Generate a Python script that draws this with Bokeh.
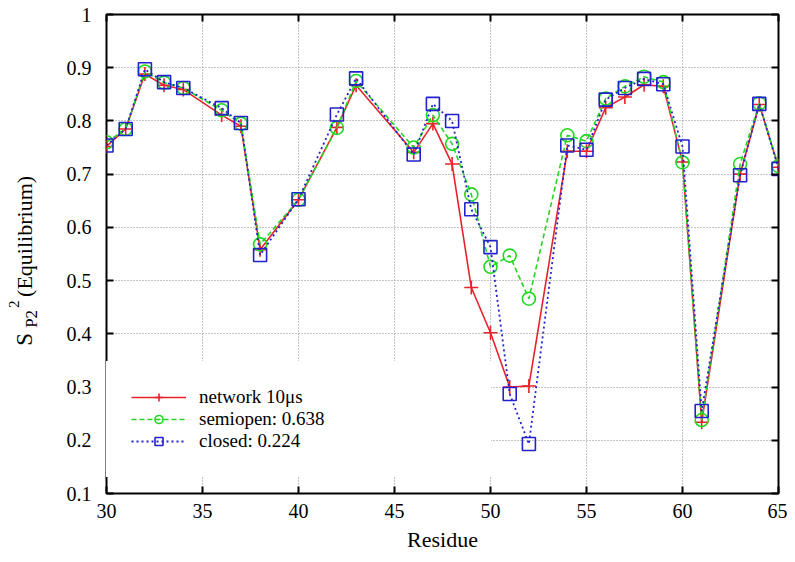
import math
from bokeh.plotting import figure
from bokeh.layouts import row
from bokeh.models import (FixedTicker, LinearAxis, Legend, LegendItem, Range1d,
                          CustomLabelingPolicy)
from bokeh.core.properties import value
from bokeh.embed import file_html
from bokeh.resources import INLINE

# ---- data ----
residues = [30, 31, 32, 33, 34, 36, 37, 38, 40, 42, 43, 46, 47, 48, 49, 50, 51, 52,
            54, 55, 56, 57, 58, 59, 60, 61, 63, 64, 65]
network = [0.752, 0.785, 0.888, 0.867, 0.859, 0.811, 0.790, 0.558, 0.652, 0.788, 0.867,
           0.741, 0.795, 0.719, 0.487, 0.402, 0.300, 0.302,
           0.743, 0.743, 0.825, 0.845, 0.868, 0.865, 0.723, 0.234, 0.700, 0.831, 0.713]
semiopen = [0.760, 0.785, 0.893, 0.872, 0.862, 0.820, 0.795, 0.568, 0.652, 0.787, 0.875,
            0.750, 0.811, 0.757, 0.662, 0.526, 0.547, 0.466,
            0.773, 0.762, 0.842, 0.865, 0.883, 0.873, 0.722, 0.238, 0.719, 0.833, 0.715]
closed = [0.754, 0.785, 0.897, 0.873, 0.862, 0.824, 0.796, 0.548, 0.653, 0.812, 0.880,
          0.737, 0.832, 0.800, 0.634, 0.563, 0.287, 0.193,
          0.754, 0.746, 0.840, 0.862, 0.879, 0.869, 0.752, 0.255, 0.698, 0.832, 0.710]
series_labels = ["network 10\u03bcs", "semiopen: 0.638", "closed: 0.224"]
x_ticks = [30, 35, 40, 45, 50, 55, 60, 65]
y_ticks = [0.1, 0.2, 0.3, 0.4, 0.5, 0.6, 0.7, 0.8, 0.9, 1.0]
y_tick_labels = ["0.1", "0.2", "0.3", "0.4", "0.5", "0.6", "0.7", "0.8", "0.9", "1"]
x_label = "Residue"
# y-axis title pieces: S_{P2}^{2} (Equilibrium)
y_label_parts = ["S", "P2", "2", "(Equilibrium)"]

FONT = "Liberation Serif"
RED = "#e8222a"
GREEN = "#22d622"
BLUE = "#2222cc"

H = 554
LAB_W = 44
FRAME_TOP, FRAME_BOTTOM = 14, 494

# ---- narrow panel carrying the rotated y-axis title (frame aligned with main frame) ----
pl = figure(width=LAB_W, height=H, output_backend="svg", toolbar_location=None,
            x_range=Range1d(0, LAB_W), y_range=Range1d(0, FRAME_BOTTOM - FRAME_TOP),
            x_axis_location=None, y_axis_location=None, min_border=0)
pl.outline_line_color = None
pl.background_fill_color = "white"
pl.border_fill_color = "white"
pl.grid.visible = False
ang = math.pi / 2
# (centre line x of the glyphs, page y where the text starts, font size)
lab_pos = [(23.5, 346, "23px"), (31, 328, "17px"), (13, 308, "15px"), (24, 297, "22px")]
for txt, (lx, ly, fs) in zip(y_label_parts, lab_pos):
    pl.text(x=[lx], y=[FRAME_BOTTOM - ly], text=[txt], angle=ang, text_font=value(FONT),
            text_font_size=fs, text_align="left", text_baseline="middle",
            text_color="black")

# ---- main plot ----
p = figure(width=787 - LAB_W, height=H, output_backend="svg", toolbar_location=None,
           x_range=Range1d(30, 65), y_range=Range1d(0.1, 1.0),
           min_border_left=106 - LAB_W, min_border_right=9, min_border_top=FRAME_TOP,
           min_border_bottom=H - FRAME_BOTTOM)
p.background_fill_color = "white"
p.border_fill_color = "white"
p.outline_line_color = "black"
p.outline_line_width = 2

xt = FixedTicker(ticks=x_ticks)
yt = FixedTicker(ticks=y_ticks)
p.xaxis.ticker = xt
p.yaxis.ticker = yt
p.yaxis.major_label_overrides = dict(zip(y_ticks, y_tick_labels))
for ax in (p.xaxis[0], p.yaxis[0]):
    ax.axis_line_color = None
    ax.major_tick_in = 7
    ax.major_tick_out = 0
    ax.major_tick_line_width = 2
    ax.major_tick_line_color = "black"
    ax.minor_tick_line_color = None
    ax.major_label_text_font = FONT
    ax.major_label_text_font_size = "20px"
    ax.major_label_text_color = "black"
    ax.axis_label_text_font = FONT
    ax.axis_label_text_font_style = "normal"
    ax.axis_label_text_color = "black"
p.xaxis.major_label_standoff = 10
p.yaxis.major_label_standoff = 15
p.xaxis.axis_label = x_label
p.xaxis.axis_label_text_font_size = "22px"
p.xaxis.axis_label_standoff = 6

# mirrored tick axes (ticks only, no labels)
no_labels = CustomLabelingPolicy(code="return new indices.constructor(indices.size, 0)")
for loc, tk in (("above", xt), ("right", yt)):
    ax = LinearAxis(ticker=tk)
    ax.axis_line_color = None
    ax.major_tick_in = 7
    ax.major_tick_out = 0
    ax.major_tick_line_width = 2
    ax.minor_tick_line_color = None
    ax.major_label_policy = no_labels
    ax.major_label_text_font_size = "0px"
    ax.major_label_standoff = 0
    p.add_layout(ax, loc)

for g in (p.xgrid[0], p.ygrid[0]):
    g.grid_line_color = "#8a8a8a"
    g.grid_line_dash = "1 2"
    g.grid_line_width = 1
p.xgrid.ticker = xt
p.ygrid.ticker = yt

r1 = p.line(residues, network, line_color=RED, line_width=1.6)
m1 = p.scatter(residues, network, marker="cross", size=14, line_color=RED, line_width=1.6)
r2 = p.line(residues, semiopen, line_color=GREEN, line_width=1.6, line_dash="5 3")
m2 = p.scatter(residues, semiopen, marker="circle", size=13, fill_color=None,
               line_color=GREEN, line_width=1.6)
r3 = p.line(residues, closed, line_color=BLUE, line_width=1.8, line_dash="2 3")
m3 = p.scatter(residues, closed, marker="square", size=13, fill_color=None,
               line_color=BLUE, line_width=1.6)

legend = Legend(items=[LegendItem(label=series_labels[0], renderers=[r1, m1]),
                       LegendItem(label=series_labels[1], renderers=[r2, m2]),
                       LegendItem(label=series_labels[2], renderers=[r3, m3])],
                location=(0, 16), padding=24, margin=0, spacing=0,
                glyph_width=55, glyph_height=20, label_height=20, label_width=267,
                label_standoff=13, label_text_font=FONT, label_text_font_size="19px",
                label_text_color="black", background_fill_color="white",
                background_fill_alpha=1.0, border_line_color="white",
                border_line_width=1)
p.add_layout(legend)

layout = row(pl, p)
open("out.html", "w").write(file_html(layout, INLINE))
